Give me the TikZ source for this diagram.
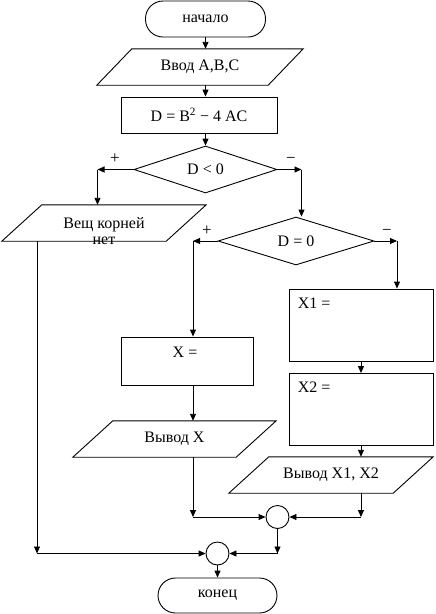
\documentclass[tikz,border=0pt]{standalone}
\usepackage{fontspec}
\setmainfont{Liberation Serif}
\usetikzlibrary{shapes.geometric,arrows.meta,calc}
\begin{document}
\begin{tikzpicture}[x=1pt,y=-1pt,
  every node/.style={font=\fontsize{16}{16}\selectfont},
  base/.style={draw,line width=0.9pt,inner sep=0pt},
  term/.style={base,rectangle,rounded corners=17.5pt,minimum width=120pt,minimum height=36pt},
  proc/.style={base,rectangle},
  io/.style={rectangle,inner sep=0pt,minimum height=36pt,
    append after command={\pgfextra{\draw[line width=0.9pt]
      ([xshift=-#1]\tikzlastnode.south west) -- ([xshift=#1]\tikzlastnode.north west) --
      ([xshift=#1]\tikzlastnode.north east) -- ([xshift=-#1]\tikzlastnode.south east) -- cycle;}}},
  io/.default=20pt,
  dec/.style={base,diamond,shape aspect=3},
  junc/.style={base,circle,minimum size=23pt},
  sign/.style={inner sep=0pt,font=\fontsize{17}{17}\selectfont},
  arr/.style={line width=0.9pt,-{Triangle[length=7pt,width=6pt]}},
  lbl/.style={inner sep=0pt}
]
\useasboundingbox (0,0) rectangle (436,614);
\node[term] (start) at (205.5,19) {начало};
\node[io=17.5pt, minimum width=171pt] (in) at (200,67) {Ввод A,B,C};
\node[proc, minimum width=156pt, minimum height=36pt] (calc) at (199,115) {D = B\textsuperscript{2} − 4 AC};
\node[dec, minimum width=143pt, minimum height=47pt] (d1) at (205.5,169.5) {D < 0};
\coordinate (cL) at (97.5,169.5);
\coordinate (cR) at (301.5,169.5);
\node[io, minimum width=164pt, align=center, label={[lbl,align=center,yshift=-8pt]center:Вещ корней\\нет}] (neg) at (104,223) {};
\node[dec, minimum width=156pt, minimum height=48pt] (d2) at (296,241) {D = 0};
\coordinate (cL2) at (193,241);
\coordinate (cR2) at (397,241);
\node[proc, minimum width=144pt, minimum height=72pt, label={[lbl,anchor=north west,xshift=9pt,yshift=-9pt]north west:X1 =}] (x1) at (361,325) {};
\node[proc, minimum width=144pt, minimum height=72pt, label={[lbl,anchor=north west,xshift=9pt,yshift=-9pt]north west:X2 =}] (x2) at (361,409.5) {};
\node[proc, minimum width=132pt, minimum height=48pt, label={[lbl,anchor=north,xshift=-2pt,yshift=-10pt]north:X =}] (xx) at (187,361) {};
\node[io, minimum width=163pt] (o1) at (174.5,439) {Вывод X};
\node[io, minimum width=164pt] (o2) at (331,475) {Вывод X1, X2};
\node[junc] (j1) at (277.5,517) {};
\node[junc] (j2) at (217.5,553.5) {};
\node[term, minimum width=119pt, minimum height=35pt] (end) at (217.5,595.5) {конец};
\coordinate (cJ1) at (193,517);
\coordinate (cJ2) at (361,517);
\coordinate (cJ3) at (277.5,553.5);
\coordinate (cJ4) at (37,553.5);
\node[sign] (p1) at (115,159) {+};
\node[sign] (m1) at (291,160) {−};
\node[sign] (p2) at (207,231) {+};
\node[sign] (m2) at (387,232) {−};
\draw[arr] (start.south) -- (start.south |- in.north);
\draw[arr] (start.south |- in.south) -- (start.south |- calc.north);
\draw[arr] (calc.south -| d1.north) -- (d1.north);
\draw[arr] (d1.west) -- (cL);
\draw[arr] (cL) -- (cL |- neg.north);
\draw[arr] (d1.east) -- (cR);
\draw[arr] (cR) -- (cR |- d2.north);
\draw[arr] (d2.west) -- (cL2);
\draw[arr] (cL2) -- (cL2 |- xx.north);
\draw[arr] (d2.east) -- (cR2);
\draw[arr] (cR2) -- (cR2 |- x1.north);
\draw[arr] (x1.south) -- (x2.north);
\draw[arr] (x2.south) -- (x2.south |- o2.north);
\draw[arr] (cL2 |- xx.south) -- (cL2 |- o1.north);
\draw[arr] (cJ1 |- o1.south) -- (cJ1);
\draw[arr] (cJ1) -- (j1.west);
\draw[arr] (cJ2 |- o2.south) -- (cJ2);
\draw[arr] (cJ2) -- (j1.east);
\draw[arr] (j1.south) -- (cJ3);
\draw[arr] (cJ3) -- (j2.east);
\draw[arr] (cJ4 |- neg.south) -- (cJ4);
\draw[arr] (cJ4) -- (j2.west);
\draw[arr] (j2.south) -- (end.north);
\end{tikzpicture}
\end{document}
